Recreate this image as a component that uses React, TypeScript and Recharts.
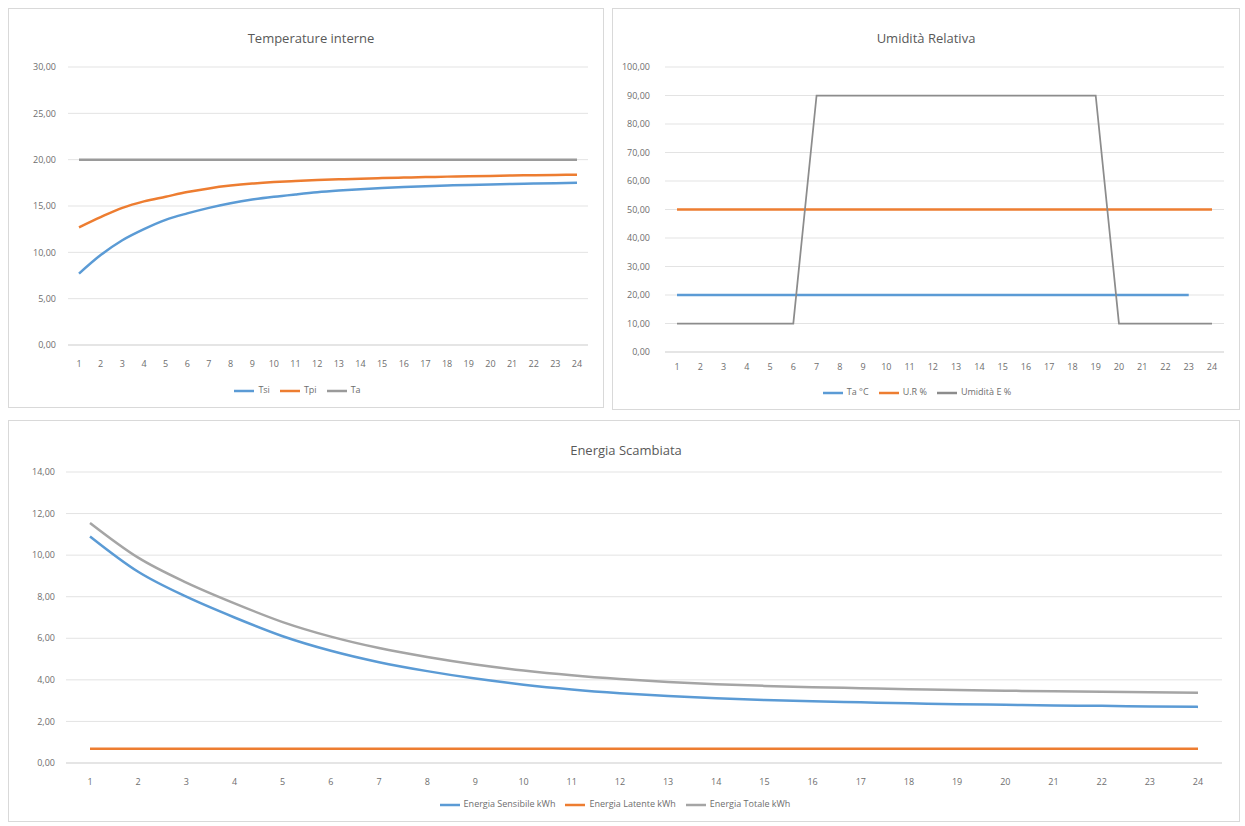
import { LineChart, Line, XAxis, YAxis, CartesianGrid, Legend } from "recharts";

const HOURS = ["1","2","3","4","5","6","7","8","9","10","11","12","13","14","15","16","17","18","19","20","21","22","23","24"];

// Temperature interne
const TSI = [7.7, 9.7, 11.3, 12.5, 13.5, 14.2, 14.8, 15.3, 15.7, 16.0, 16.25, 16.48, 16.66, 16.81, 16.94, 17.05, 17.14, 17.21, 17.27, 17.33, 17.38, 17.42, 17.46, 17.5];
const TPI = [12.7, 13.8, 14.8, 15.5, 16.0, 16.5, 16.9, 17.2, 17.42, 17.58, 17.7, 17.8, 17.88, 17.95, 18.01, 18.07, 18.12, 18.17, 18.21, 18.25, 18.29, 18.32, 18.35, 18.38];
const TA = [20, 20, 20, 20, 20, 20, 20, 20, 20, 20, 20, 20, 20, 20, 20, 20, 20, 20, 20, 20, 20, 20, 20, 20];
const TEMP_TICKS = [0, 5, 10, 15, 20, 25, 30];

// Umidità Relativa
const TA_C = [20, 20, 20, 20, 20, 20, 20, 20, 20, 20, 20, 20, 20, 20, 20, 20, 20, 20, 20, 20, 20, 20, 20, null];
const UR = [50, 50, 50, 50, 50, 50, 50, 50, 50, 50, 50, 50, 50, 50, 50, 50, 50, 50, 50, 50, 50, 50, 50, 50];
const UMID_E = [10, 10, 10, 10, 10, 10, 90, 90, 90, 90, 90, 90, 90, 90, 90, 90, 90, 90, 90, 10, 10, 10, 10, 10];
const RH_TICKS = [0, 10, 20, 30, 40, 50, 60, 70, 80, 90, 100];

// Energia Scambiata
const SENSIBILE = [10.9, 9.2, 8.0, 7.0, 6.1, 5.4, 4.85, 4.42, 4.06, 3.77, 3.54, 3.36, 3.22, 3.11, 3.03, 2.97, 2.92, 2.87, 2.83, 2.8, 2.77, 2.75, 2.72, 2.7];
const LATENTE = [0.68, 0.68, 0.68, 0.68, 0.68, 0.68, 0.68, 0.68, 0.68, 0.68, 0.68, 0.68, 0.68, 0.68, 0.68, 0.68, 0.68, 0.68, 0.68, 0.68, 0.68, 0.68, 0.68, 0.68];
const TOTALE = [11.55, 9.88, 8.68, 7.68, 6.78, 6.08, 5.53, 5.1, 4.74, 4.45, 4.22, 4.04, 3.9, 3.79, 3.71, 3.65, 3.6, 3.55, 3.51, 3.48, 3.45, 3.43, 3.4, 3.38];
const EN_TICKS = [0, 2, 4, 6, 8, 10, 12, 14];

const BLUE = "#5b9bd5";
const ORANGE = "#ed7d31";
const GREY = "#a5a5a5";
const TEXT = "#6e6e6e";
const GRID = "#e3e3e3";
const FONT = "'Open Sans', sans-serif";

const tempData = HOURS.map((h, i) => ({ h, tsi: TSI[i], tpi: TPI[i], ta: TA[i] }));
const rhData = HOURS.map((h, i) => ({ h, ta: TA_C[i], ur: UR[i], ue: UMID_E[i] }));
const enData = HOURS.map((h, i) => ({ h, s: SENSIBILE[i], l: LATENTE[i], t: TOTALE[i] }));

const fmt = (v: number) => v.toFixed(2).replace(".", ",");
const tick = { fill: TEXT, fontSize: 9, fontFamily: FONT };
const legendStyle = { fontSize: 9, fontFamily: FONT };
const legendText = (v: string) => <span style={{ color: TEXT }}>{v}</span>;
// keep series order in the legend (Recharts 3 sorts by name otherwise)
const byKey = (keys: string[]) => (item: any) => keys.indexOf(item.dataKey);

const panel = (left: number, top: number, width: number, height: number): React.CSSProperties => ({
  position: "absolute",
  left,
  top,
  width,
  height,
  border: "1px solid #d9d9d9",
  boxSizing: "border-box",
  background: "#fff",
});

const titleStyle = (cx: number, cy: number): React.CSSProperties => ({
  position: "absolute",
  left: cx - 150,
  top: cy - 10,
  width: 300,
  height: 20,
  lineHeight: "20px",
  textAlign: "center",
  fontFamily: FONT,
  fontSize: 13,
  color: "#595959",
});

export default function App() {
  return (
    <div style={{ position: "absolute", left: 0, top: 0, width: 1245, height: 826, background: "#fff", overflow: "hidden" }}>
      {/* Temperature interne */}
      <div style={panel(8, 8, 596, 400)}>
        <LineChart width={594} height={398} data={tempData} margin={{ top: 58, right: 15, bottom: 6, left: 8 }}>
          <CartesianGrid vertical={false} stroke={GRID} />
          <XAxis dataKey="h" tick={tick} tickLine={false} axisLine={{ stroke: "#d9d9d9" }} height={36} tickMargin={10} padding={{ left: 11, right: 11 }} interval={0} />
          <YAxis domain={[0, 30]} ticks={TEMP_TICKS} tickFormatter={fmt} tick={tick} tickLine={false} axisLine={false} width={51} tickMargin={6} />
          <Legend height={20} iconType="plainline" iconSize={20} wrapperStyle={legendStyle} formatter={legendText} itemSorter={byKey(["tsi", "tpi", "ta"])} />
          <Line type="monotone" dataKey="tsi" name="Tsi" stroke={BLUE} strokeWidth={2.5} dot={false} isAnimationActive={false} />
          <Line type="monotone" dataKey="tpi" name="Tpi" stroke={ORANGE} strokeWidth={2.5} dot={false} isAnimationActive={false} />
          <Line type="monotone" dataKey="ta" name="Ta" stroke="#9a9a9a" strokeWidth={2.5} dot={false} isAnimationActive={false} />
        </LineChart>
        <div style={titleStyle(302, 29)}>Temperature interne</div>
      </div>

      {/* Umidità Relativa */}
      <div style={panel(612, 8, 628, 402)}>
        <LineChart width={626} height={400} data={rhData} margin={{ top: 58, right: 15, bottom: 6, left: 7 }}>
          <CartesianGrid vertical={false} stroke={GRID} />
          <XAxis dataKey="h" tick={tick} tickLine={false} axisLine={{ stroke: "#d9d9d9" }} height={31} tickMargin={6} padding={{ left: 12, right: 12 }} interval={0} />
          <YAxis domain={[0, 100]} ticks={RH_TICKS} tickFormatter={fmt} tick={tick} tickLine={false} axisLine={false} width={45} tickMargin={9} />
          <Legend height={20} iconType="plainline" iconSize={20} wrapperStyle={legendStyle} formatter={legendText} itemSorter={byKey(["ta", "ur", "ue"])} />
          <Line type="linear" dataKey="ta" name="Ta °C" stroke={BLUE} strokeWidth={2.5} dot={false} isAnimationActive={false} />
          <Line type="linear" dataKey="ur" name="U.R %" stroke={ORANGE} strokeWidth={2.5} dot={false} isAnimationActive={false} />
          <Line type="linear" dataKey="ue" name="Umidità E %" stroke="#8c8c8c" strokeWidth={1.75} dot={false} isAnimationActive={false} />
        </LineChart>
        <div style={titleStyle(313, 29)}>Umidità Relativa</div>
      </div>

      {/* Energia Scambiata */}
      <div style={panel(8, 420, 1232, 402)}>
        <LineChart width={1230} height={400} data={enData} margin={{ top: 51, right: 17, bottom: 6, left: 9 }}>
          <CartesianGrid vertical={false} stroke={GRID} />
          <XAxis dataKey="h" tick={tick} tickLine={false} axisLine={{ stroke: "#d9d9d9" }} height={32} tickMargin={10} padding={{ left: 24, right: 24 }} interval={0} />
          <YAxis domain={[0, 14]} ticks={EN_TICKS} tickFormatter={fmt} tick={tick} tickLine={false} axisLine={false} width={48} tickMargin={5} />
          <Legend height={20} iconType="plainline" iconSize={20} wrapperStyle={legendStyle} formatter={legendText} itemSorter={byKey(["s", "l", "t"])} />
          <Line type="monotone" dataKey="s" name="Energia Sensibile kWh" stroke={BLUE} strokeWidth={2.5} dot={false} isAnimationActive={false} />
          <Line type="monotone" dataKey="l" name="Energia Latente kWh" stroke={ORANGE} strokeWidth={2.5} dot={false} isAnimationActive={false} />
          <Line type="monotone" dataKey="t" name="Energia Totale kWh" stroke={GREY} strokeWidth={2.5} dot={false} isAnimationActive={false} />
        </LineChart>
        <div style={titleStyle(617, 29)}>Energia Scambiata</div>
      </div>
    </div>
  );
}
